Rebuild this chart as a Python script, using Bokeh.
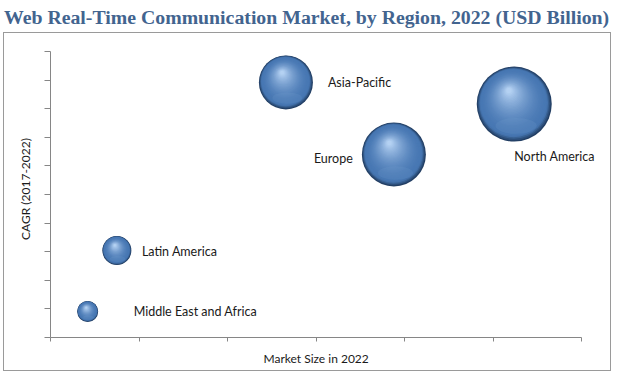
from bokeh.plotting import figure
from bokeh.models import (FixedTicker, ColumnDataSource, Range1d, CustomJSTickFormatter,
                          LabelSet, Div, Title)
from bokeh.layouts import column
from bokeh.embed import file_html
from bokeh.resources import INLINE
from bokeh.core.properties import value

# ---------------- data ----------------
title = "Web Real-Time Communication Market, by Region, 2022 (USD Billion)"
x_label = "Market Size in 2022"
y_label = "CAGR (2017-2022)"
regions = ["North America", "Europe", "Asia-Pacific", "Latin America", "Middle East and Africa"]
market_size = [5.24, 3.88, 2.66, 0.75, 0.42]      # x position (relative market size)
cagr = [8.16, 6.40, 8.92, 3.04, 0.91]             # y position (relative CAGR)
bubble_value = [7.5, 6.4, 5.4, 2.9, 2.1]          # bubble magnitude
x_ticks = [0, 1, 2, 3, 4, 5, 6]
y_ticks = [0, 1, 2, 3, 4, 5, 6, 7, 8, 9, 10]

# ---------------- styles ----------------
PX_PER_VALUE = 10.0  # bubble diameter px per unit
label_offsets = {   # (dx, dy) in px from bubble centre (dy downwards), left aligned
    "North America": (0, 52),
    "Europe": (-80, 4),
    "Asia-Pacific": (42, 0),
    "Latin America": (25, 1),
    "Middle East and Africa": (46, 0),
}
FONT = "Lato"
AXIS_COL = "#868686"
TEXT_COL = "#1a1a1a"

# figure content box (inside a 1px css border)
W, H = 608, 339
AX_W, AX_H = 531, 286          # pixel span of the drawn axes
ML, MB = 46, 35                # frame left / bottom margins
PAD_R, PAD_T = 25, 11          # frame extends beyond the axes ends (for labels)
MR = W - ML - AX_W - PAD_R
MT = H - MB - AX_H - PAD_T
X0, X1 = x_ticks[0], x_ticks[-1]
Y0, Y1 = y_ticks[0], y_ticks[-1]
px_x = AX_W / (X1 - X0)
px_y = AX_H / (Y1 - Y0)

title_div = Div(text=title, width=618, height=32, margin=(0, 0, 0, 0),
                styles={"font-family": "Liberation Serif", "font-weight": "bold",
                        "font-size": "19.8px", "color": "#42648F", "line-height": "22px",
                        "padding-top": "6px", "padding-left": "4px",
                        "white-space": "nowrap", "box-sizing": "border-box"})

p = figure(width=W, height=H, output_backend="svg", toolbar_location=None,
           x_range=Range1d(X0, X1 + PAD_R / px_x), y_range=Range1d(Y0, Y1 + PAD_T / px_y),
           min_border_left=ML, min_border_right=MR, min_border_top=MT, min_border_bottom=MB,
           margin=(0, 0, 0, 3))
p.styles = {"border": "1px solid #9a9a9a"}

p.grid.visible = False
p.outline_line_color = None
p.background_fill_color = "white"
p.border_fill_color = "white"

for ax, ticks, b in ((p.xaxis, x_ticks, (X0, X1)), (p.yaxis, y_ticks, (Y0, Y1))):
    ax.ticker = FixedTicker(ticks=ticks)
    ax.bounds = b
    ax.formatter = CustomJSTickFormatter(code="return ''")
    ax.major_label_text_font_size = "0px"
    ax.major_label_standoff = 0
    ax.minor_tick_line_color = None
    ax.axis_line_color = AXIS_COL
    ax.major_tick_line_color = AXIS_COL
    ax.major_tick_in = 0
    ax.axis_label_text_font = FONT
    ax.axis_label_text_font_style = "normal"
    ax.axis_label_text_font_size = "12px"
    ax.axis_label_text_color = TEXT_COL

p.xaxis.major_tick_out = 4
p.yaxis.major_tick_out = 6
p.yaxis.axis_label = y_label
p.yaxis.axis_label_standoff = 12

# x-axis title centred under the drawn axis span (not the wider frame)
p.add_layout(Title(text=x_label, align="left", offset=213, standoff=14,
                   text_font=FONT, text_font_style="normal", text_font_size="12px",
                   text_color=TEXT_COL), "below")


def lerp(a, b, t):
    return "#%02x%02x%02x" % tuple(int(round(a[k] + (b[k] - a[k]) * t)) for k in range(3))


edge = (0x22, 0x3e, 0x63)
mid = (0x47, 0x77, 0xb3)
light = (0xb4, 0xd1, 0xf2)
N = 34
radii = [v * PX_PER_VALUE / 2 for v in bubble_value]
for i in range(N):
    t = i / (N - 1)
    frac = 1 - 0.93 * t
    if t < 0.10:
        col = lerp(edge, mid, t / 0.10)
    else:
        col = lerp(mid, light, ((t - 0.10) / 0.90) ** 1.8)
    xs = [x - 0.14 * r * t / px_x for x, r in zip(market_size, radii)]
    ys = [y + 0.36 * r * t / px_y for y, r in zip(cagr, radii)]
    sizes = [2 * r * frac for r in radii]
    p.scatter(xs, ys, size=sizes, fill_color=col, line_color=None)

# lower reflection
p.ellipse([x + 0.05 * r / px_x for x, r in zip(market_size, radii)],
          [y - 0.58 * r / px_y for y, r in zip(cagr, radii)],
          width=[1.1 * r for r in radii], height=[0.42 * r for r in radii],
          width_units="screen", height_units="screen",
          fill_color="#8fb3e0", fill_alpha=0.12, line_color=None)

src = ColumnDataSource(dict(
    x=market_size, y=cagr, text=regions,
    dx=[label_offsets[r][0] for r in regions],
    dy=[-label_offsets[r][1] for r in regions]))
p.add_layout(LabelSet(x="x", y="y", text="text", x_offset="dx", y_offset="dy", source=src,
                      text_font=value(FONT), text_font_size="12.5px", text_color=TEXT_COL,
                      text_align="left", text_baseline="middle"))

layout = column(title_div, p, spacing=0)
open("out.html", "w").write(file_html(layout, INLINE))
